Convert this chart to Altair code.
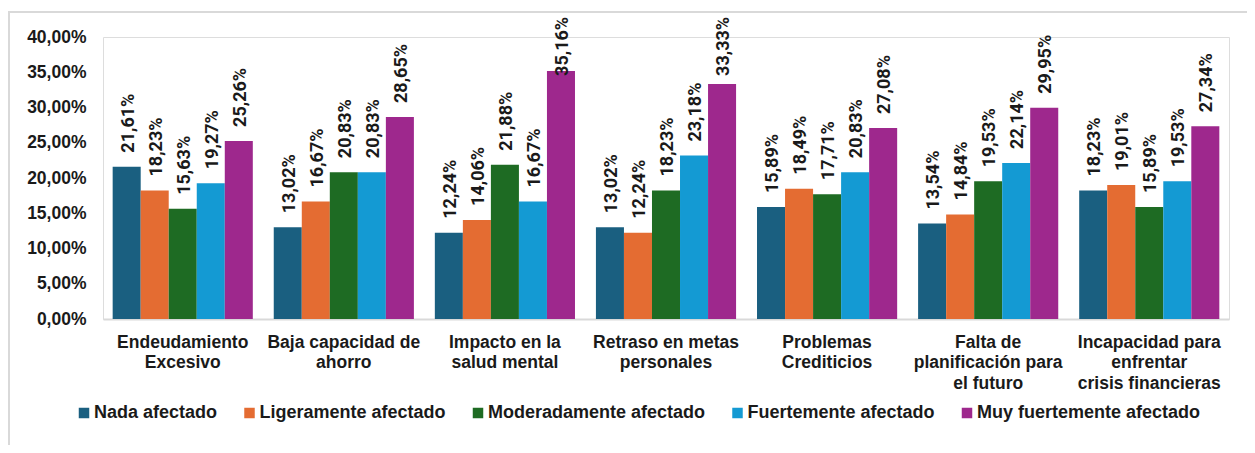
import altair as alt
import pandas as pd

categories = [
    "Endeudamiento|Excesivo",
    "Baja capacidad de|ahorro",
    "Impacto en la|salud mental",
    "Retraso en metas|personales",
    "Problemas|Crediticios",
    "Falta de|planificación para|el futuro",
    "Incapacidad para|enfrentar|crisis financieras",
]
series = [
    "Nada afectado",
    "Ligeramente afectado",
    "Moderadamente afectado",
    "Fuertemente afectado",
    "Muy fuertemente afectado",
]
colors = ["#1a5f80", "#e46c32", "#1e6b23", "#149ad3", "#9e288d"]
y_ticks = [0, 5, 10, 15, 20, 25, 30, 35, 40]

nada = [21.61, 13.02, 12.24, 13.02, 15.89, 13.54, 18.23]
ligeramente = [18.23, 16.67, 14.06, 12.24, 18.49, 14.84, 19.01]
moderadamente = [15.63, 20.83, 21.88, 18.23, 17.71, 19.53, 15.89]
fuertemente = [19.27, 20.83, 16.67, 23.18, 20.83, 22.14, 19.53]
muy_fuertemente = [25.26, 28.65, 35.16, 33.33, 27.08, 29.95, 27.34]

values_by_series = [nada, ligeramente, moderadamente, fuertemente, muy_fuertemente]
rows = []
for s, vals in zip(series, values_by_series):
    for c, v in zip(categories, vals):
        rows.append({"categoria": c, "serie": s, "valor": v})
df = pd.DataFrame(rows)

x_axis = alt.Axis(
    title=None,
    labelAngle=0,
    labelExpr="split(datum.label, '|')",
    labelFont="Liberation Sans",
    labelFontSize=17.5,
    labelFontWeight="bold",
    labelColor="#1a1a1a",
    labelLineHeight=20.5,
    labelPadding=14,
    labelBaseline="top",
    labelLimit=0,
    ticks=False,
    domainColor="#d9d9d9",
    domainWidth=2,
)
y_axis = alt.Axis(
    title=None,
    values=y_ticks,
    labelExpr="replace(format(datum.value, '.2f'), '.', ',') + '%'",
    labelFont="Liberation Sans",
    labelFontSize=17.5,
    labelFontWeight="bold",
    labelColor="#1a1a1a",
    labelPadding=17,
    labelOverlap=False,
    grid=False,
    ticks=False,
    domain=False,
)
x_scale = alt.Scale(paddingInner=0.13, paddingOuter=0.06)
xoff_enc = alt.XOffset("serie:N", sort=series, scale=alt.Scale(paddingInner=0, paddingOuter=0))
y_scale = alt.Scale(domain=[0, 40])

bars = alt.Chart(df).mark_bar().encode(
    x=alt.X("categoria:N", sort=categories, scale=x_scale, axis=x_axis),
    xOffset=xoff_enc,
    y=alt.Y("valor:Q", scale=y_scale, axis=y_axis),
    color=alt.Color(
        "serie:N",
        sort=series,
        scale=alt.Scale(domain=series, range=colors),
        legend=alt.Legend(
            title=None,
            orient="none",
            legendX=-28,
            legendY=367,
            direction="horizontal",
            columns=5,
            columnPadding=22.5,
            symbolType="square",
            symbolSize=110,
            symbolStrokeWidth=0,
            labelFont="Liberation Sans",
            labelFontSize=18,
            labelFontWeight="bold",
            labelColor="#1a1a1a",
            labelOffset=1,
            labelLimit=0,
        ),
    ),
)

labels = alt.Chart(df).transform_calculate(
    etiqueta="replace(format(datum.valor, '.2f'), '.', ',') + '%'",
    ypos="min(datum.valor, 32.5)",
).mark_text(
    angle=270,
    align="left",
    baseline="middle",
    dx=14,
    dy=2,
    font="Roboto",
    fontSize=18,
    fontWeight="bold",
    color="#1a1a1a",
).encode(
    x=alt.X("categoria:N", sort=categories, scale=x_scale, axis=x_axis),
    xOffset=xoff_enc,
    y=alt.Y("ypos:Q", scale=y_scale, axis=y_axis),
    text="etiqueta:N",
)

frame = alt.Chart(pd.DataFrame({"a": [0]})).mark_rect(
    fill=None, stroke="#d9d9d9", strokeWidth=2, clip=False
).encode(
    x=alt.value(-94), x2=alt.value(1300), y=alt.value(-25), y2=alt.value(500)
)

chart = alt.layer(frame, bars, labels).properties(
    width=1126,
    height=282,
    padding={"left": 95, "top": 29, "right": 18, "bottom": 126},
    autosize=alt.AutoSizeParams(type="none"),
).configure_view(stroke=None).configure(background="white")

chart.save("out.html", embed_options={"renderer": "svg", "actions": False})
